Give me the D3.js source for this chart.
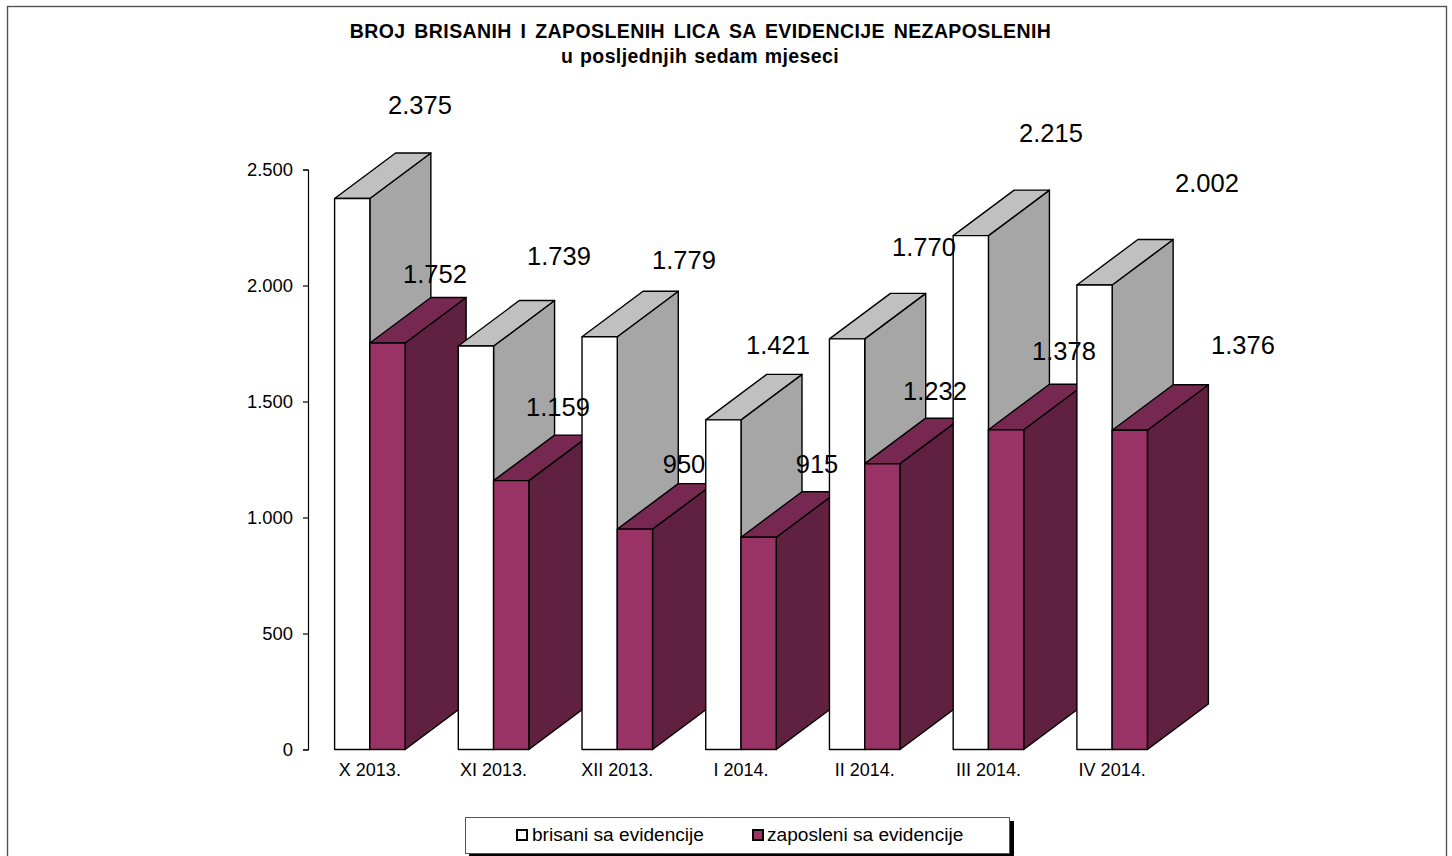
<!DOCTYPE html>
<html>
<head>
<meta charset="UTF-8">
<script src="https://d3js.org/d3.v7.min.js"></script>
<style>
  html, body { margin: 0; padding: 0; background: #fff; overflow: hidden; }
  text { font-family: "Liberation Sans", Arial, sans-serif; fill: #000; }
</style>
</head>
<body>
<svg id="chart" width="1452" height="856"></svg>
<script>
// podaci
var categories = ["X 2013.", "XI 2013.", "XII 2013.", "I 2014.", "II 2014.", "III 2014.", "IV 2014."];
var brisani = [2375, 1739, 1779, 1421, 1770, 2215, 2002];
var zaposleni = [1752, 1159, 950, 915, 1232, 1378, 1376];
var yTicks = [0, 500, 1000, 1500, 2000, 2500];

// rucno pomjerene etikete, kao u originalu (centar teksta)
var brisaniLabelX = [420, 559, 684, 778, 924, 1051, 1207];
var brisaniLabelY = [105, 256, 260, 345, 247, 133, 183];
var zaposleniLabelX = [435, 558, 684, 817, 935, 1064, 1243];
var zaposleniLabelY = [274, 407, 464, 464, 391, 351, 345];

var svg = d3.select("#chart");
var fmt = function(v) { return d3.format(",")(v).replace(",", "."); };

// okvir
svg.append("rect")
  .attr("x", 7.5).attr("y", 6.5)
  .attr("width", 1439).attr("height", 860)
  .attr("fill", "#fff").attr("stroke", "#555").attr("stroke-width", 1.4);

// naslov
svg.append("text").attr("x", 700.5).attr("y", 38)
  .attr("text-anchor", "middle").attr("font-size", 19.5).attr("font-weight", "bold")
  .attr("letter-spacing", 0.4).attr("word-spacing", 3)
  .text("BROJ BRISANIH I ZAPOSLENIH LICA SA EVIDENCIJE NEZAPOSLENIH");
svg.append("text").attr("x", 700).attr("y", 63)
  .attr("text-anchor", "middle").attr("font-size", 19.5).attr("font-weight", "bold")
  .attr("letter-spacing", 0.4).attr("word-spacing", 1)
  .text("u posljednjih sedam mjeseci");

// skale
var y = d3.scaleLinear().domain([0, 2500]).range([749.5, 169.5]);
var x = d3.scaleBand().domain(categories).range([308, 1174])
  .paddingInner(0.43).paddingOuter(0.215);
var series = d3.scaleBand().domain(["brisani", "zaposleni"]).range([0, x.bandwidth()]);

// dubina 3D stubica
var depthX = 61, depthY = -45.5;

var colors = {
  brisani: { front: "#ffffff", top: "#c0c0c0", side: "#a6a6a6" },
  zaposleni: { front: "#993366", top: "#772850", side: "#60203f" }
};

function drawBar(g, key, cat, value) {
  var x0 = x(cat) + series(key), x1 = x0 + series.bandwidth();
  var y0 = y(0), y1 = y(value), c = colors[key];
  var poly = function(points, fill) {
    g.append("polygon")
      .attr("points", points.map(function(p) { return p.join(","); }).join(" "))
      .attr("fill", fill).attr("stroke", "#000").attr("stroke-width", 1.4)
      .attr("stroke-linejoin", "round");
  };
  poly([[x1, y0], [x1 + depthX, y0 + depthY], [x1 + depthX, y1 + depthY], [x1, y1]], c.side);
  poly([[x0, y1], [x0 + depthX, y1 + depthY], [x1 + depthX, y1 + depthY], [x1, y1]], c.top);
  poly([[x0, y0], [x1, y0], [x1, y1], [x0, y1]], c.front);
}

var bars = svg.append("g");
categories.forEach(function(cat, i) {
  drawBar(bars, "brisani", cat, brisani[i]);
  drawBar(bars, "zaposleni", cat, zaposleni[i]);
});

// ose
var yAxis = svg.append("g").attr("transform", "translate(308,0)")
  .call(d3.axisLeft(y).tickValues(yTicks).tickSize(5).tickPadding(10).tickFormat(fmt).tickSizeOuter(5));
yAxis.selectAll("path, line").attr("stroke", "#000").attr("stroke-width", 1.2);
yAxis.selectAll("text").attr("font-size", 18.4).attr("fill", "#000")
  .style("font-family", '"Liberation Sans", Arial, sans-serif');

var xAxis = svg.append("g").attr("transform", "translate(0,749)")
  .call(d3.axisBottom(x).tickSize(0).tickPadding(14));
xAxis.select(".domain").remove();
xAxis.selectAll("text").attr("font-size", 18).attr("fill", "#000")
  .style("font-family", '"Liberation Sans", Arial, sans-serif');

// etikete vrijednosti
function labels(values, xs, ys) {
  svg.append("g").selectAll("text").data(values).enter().append("text")
    .attr("x", function(d, i) { return xs[i]; })
    .attr("y", function(d, i) { return ys[i]; })
    .attr("dy", "0.36em")
    .attr("text-anchor", "middle").attr("font-size", 25.5)
    .text(fmt);
}
labels(brisani, brisaniLabelX, brisaniLabelY);
labels(zaposleni, zaposleniLabelX, zaposleniLabelY);

// legenda
var legend = svg.append("g");
legend.append("rect").attr("x", 469).attr("y", 821).attr("width", 545).attr("height", 36).attr("fill", "#000");
legend.append("rect").attr("x", 465.5).attr("y", 817.5).attr("width", 544).attr("height", 36)
  .attr("fill", "#fff").attr("stroke", "#555").attr("stroke-width", 1);
var legendItems = [
  { key: "brisani", label: "brisani sa evidencije", bx: 517, tx: 532 },
  { key: "zaposleni", label: "zaposleni sa evidencije", bx: 753, tx: 767 }
];
legendItems.forEach(function(d) {
  legend.append("rect").attr("x", d.bx).attr("y", 830).attr("width", 10).attr("height", 10)
    .attr("fill", colors[d.key].front).attr("stroke", "#000").attr("stroke-width", 2);
  legend.append("text").attr("x", d.tx).attr("y", 841).attr("font-size", 19.1).text(d.label);
});
</script>
</body>
</html>
